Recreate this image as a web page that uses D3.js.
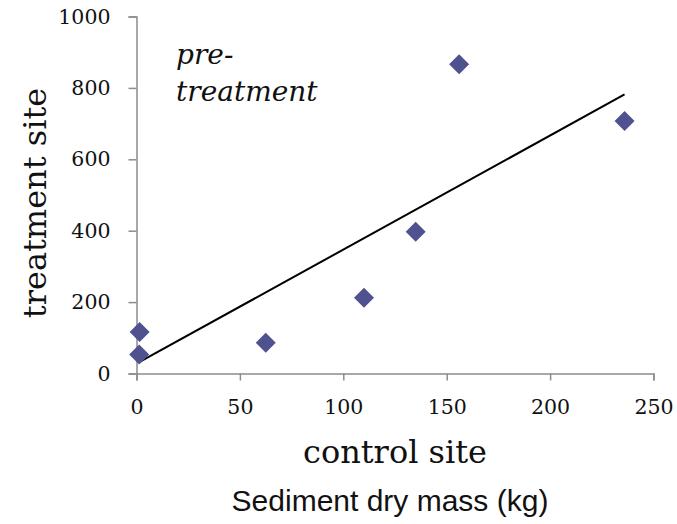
<!DOCTYPE html>
<html>
<head>
<meta charset="utf-8">
<script src="https://cdn.jsdelivr.net/npm/d3@7"></script>
<style>
  html, body { margin: 0; padding: 0; background: #fff; }
  svg { display: block; }
</style>
</head>
<body>
<svg id="chart" width="677" height="524"></svg>
<script>
// Data: sediment dry mass (kg)
const controlSite   = [1.3, 1.5, 62.5, 110, 135, 156, 236];
const treatmentSite = [53, 116, 86, 212, 397, 866, 707];
const xTicks = [0, 50, 100, 150, 200, 250];
const yTicks = [0, 200, 400, 600, 800, 1000];

const svg = d3.select("#chart");
const margin = {left: 136.5, right: 677 - 653.5, top: 16.5, bottom: 524 - 373.5};
const W = 677, H = 524;

const x = d3.scaleLinear().domain([0, 250]).range([margin.left, W - margin.right]);
const y = d3.scaleLinear().domain([0, 1000]).range([H - margin.bottom, margin.top]);

const serif = "Georgia, 'DejaVu Serif', serif";
const axisColor = "#8c8c8c";

// X axis
const xAxis = svg.append("g")
  .attr("transform", `translate(0,${y(0)})`)
  .call(d3.axisBottom(x).tickValues(xTicks).tickSize(7).tickPadding(19).tickFormat(d3.format("d")));
xAxis.select(".domain").attr("stroke", axisColor).attr("stroke-width", 1.5);
xAxis.selectAll(".tick line").attr("stroke", axisColor).attr("stroke-width", 1.5);
xAxis.selectAll(".tick text").attr("font-family", serif).attr("font-size", 20.5).attr("fill", "#111");

// Y axis
const yAxis = svg.append("g")
  .attr("transform", `translate(${x(0)},0)`)
  .call(d3.axisLeft(y).tickValues(yTicks).tickSize(8).tickPadding(18).tickFormat(d3.format("d")));
yAxis.select(".domain").attr("stroke", axisColor).attr("stroke-width", 1.5);
yAxis.selectAll(".tick line").attr("stroke", axisColor).attr("stroke-width", 1.5);
yAxis.selectAll(".tick text").attr("font-family", serif).attr("font-size", 20.5).attr("fill", "#111");

// Linear trendline (least squares)
const n = controlSite.length;
const mx = d3.mean(controlSite), my = d3.mean(treatmentSite);
let sxy = 0, sxx = 0;
for (let i = 0; i < n; i++) {
  sxy += (controlSite[i] - mx) * (treatmentSite[i] - my);
  sxx += (controlSite[i] - mx) ** 2;
}
const slope = sxy / sxx, intercept = my - slope * mx;
const [x0, x1] = d3.extent(controlSite);
svg.append("line")
  .attr("x1", x(x0)).attr("y1", y(intercept + slope * x0))
  .attr("x2", x(x1)).attr("y2", y(intercept + slope * x1))
  .attr("stroke", "#000").attr("stroke-width", 2);

// Points (diamonds)
const diamond = d3.symbol().type(d3.symbolSquare).size(200);
svg.append("g").selectAll("path")
  .data(controlSite.map((c, i) => [c, treatmentSite[i]]))
  .join("path")
  .attr("d", diamond)
  .attr("transform", d => `translate(${x(d[0])},${y(d[1])}) rotate(45)`)
  .attr("fill", "#50528F");

// Annotation
const ann = svg.append("text")
  .attr("font-family", serif).attr("font-style", "italic").attr("font-size", 28).attr("fill", "#111");
ann.append("tspan").attr("x", 176).attr("y", 64).text("pre-");
ann.append("tspan").attr("x", 176).attr("y", 101).text("treatment");

// Axis titles
svg.append("text")
  .attr("transform", `translate(46,${(y(0)+y(1000))/2 + 8}) rotate(-90)`)
  .attr("text-anchor", "middle")
  .attr("font-family", serif).attr("font-size", 32).attr("fill", "#111")
  .text("treatment site");

svg.append("text")
  .attr("x", 395).attr("y", 463)
  .attr("text-anchor", "middle")
  .attr("font-family", serif).attr("font-size", 32).attr("fill", "#111")
  .text("control site");

svg.append("text")
  .attr("x", 390).attr("y", 511)
  .attr("text-anchor", "middle")
  .attr("font-family", "'Liberation Sans', Arial, sans-serif").attr("font-size", 30).attr("fill", "#111")
  .text("Sediment dry mass (kg)");
</script>
</body>
</html>
